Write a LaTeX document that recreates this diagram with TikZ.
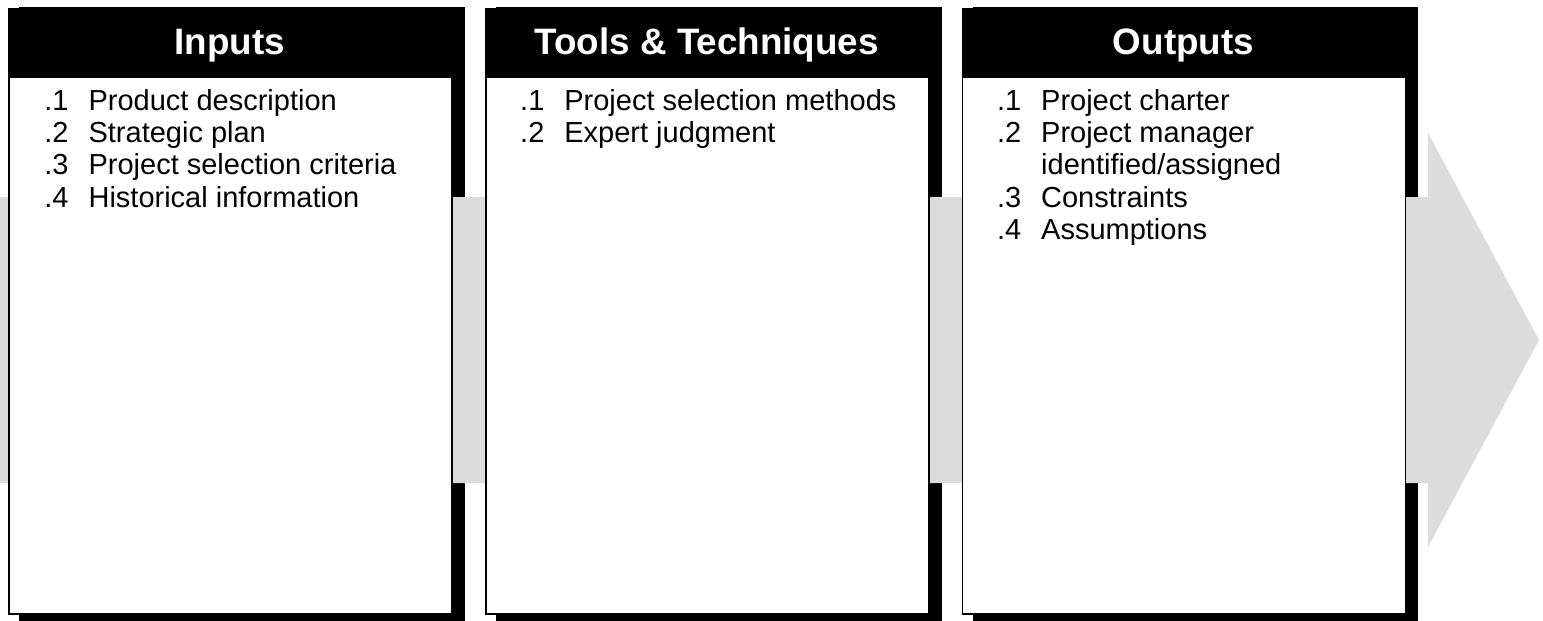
\documentclass[tikz,border=0pt]{standalone}
\usepackage{fontspec}
\setsansfont{Liberation Sans}
\usepackage{tikz}
\usetikzlibrary{positioning, calc}

\pgfdeclarelayer{shadow}
\pgfdeclarelayer{band}
\pgfsetlayers{shadow,band,main}
\definecolor{bandgray}{RGB}{220,220,220}

\begin{document}
\begin{tikzpicture}[
        x=0.5pt, y=-0.5pt,
        node distance=16pt,
        % White body of a column
        body/.style={
            rectangle, draw=black, line width=0.9pt,
            fill=white, inner sep=0pt,
            minimum width=221.5pt, minimum height=268.5pt
        },
        % Black title bar on top of a column
        head/.style={
            rectangle, fill=black, text=white, inner sep=0pt,
            minimum width=221.5pt, minimum height=34pt,
            text depth=0pt,
            font=\sffamily\bfseries\fontsize{18.4}{20}\selectfont
        },
        % Numbered entries inside a column
        items/.style={
            inner sep=0pt, anchor=base west,
            font=\sffamily\fontsize{14.5}{16.2}\selectfont
        },
        % Hard black shadow and the grey flow arrow
        shade/.style={fill=black},
        flow/.style={fill=bandgray}
    ]

        \useasboundingbox (0,0) rectangle (1543,621);

        % Columns
        \node[body, anchor=north west] (inputs) at (8,76) {};
        \node[body, right=of inputs] (tools) {};
        \node[body, right=of tools] (outputs) {};

        % Title bars
        \node[head, anchor=south west] (inputshead) at (inputs.north west) {Inputs};
        \node[head, anchor=south west] (toolshead) at (tools.north west) {Tools \& Techniques};
        \node[head, anchor=south west] (outputshead) at (outputs.north west) {Outputs};

        % Shadows behind the columns
        \begin{pgfonlayer}{shadow}
            \fill[shade] ($(inputshead.north west)+(11,0)$) rectangle ($(inputs.south east)+(12,8)$);
            \fill[shade] ($(toolshead.north west)+(11,0)$) rectangle ($(tools.south east)+(12,8)$);
            \fill[shade] ($(outputshead.north west)+(11,0)$) rectangle ($(outputs.south east)+(12,8)$);
        \end{pgfonlayer}

        % Grey arrow running behind the columns
        \begin{pgfonlayer}{band}
            \fill[flow] (0,197) -- (1428,197) -- (1428,133) -- (1539,340)
                        -- (1428,547) -- (1428,483) -- (0,483) -- cycle;
        \end{pgfonlayer}

        % Entries
        \node[items] (inputslist) at ($(inputs.north west)+(36,34)$) {%
            \begin{tabular}[t]{@{}l@{\hspace{10pt}}l@{}}
                .1 & Product description\\
                .2 & Strategic plan\\
                .3 & Project selection criteria\\
                .4 & Historical information
            \end{tabular}};
        \node[items] (toolslist) at ($(tools.north west)+(35,34)$) {%
            \begin{tabular}[t]{@{}l@{\hspace{10pt}}l@{}}
                .1 & Project selection methods\\
                .2 & Expert judgment
            \end{tabular}};
        \node[items] (outputslist) at ($(outputs.north west)+(35,34)$) {%
            \begin{tabular}[t]{@{}l@{\hspace{10pt}}l@{}}
                .1 & Project charter\\
                .2 & Project manager\\
                   & identified/assigned\\
                .3 & Constraints\\
                .4 & Assumptions
            \end{tabular}};

    \end{tikzpicture}
\end{document}
